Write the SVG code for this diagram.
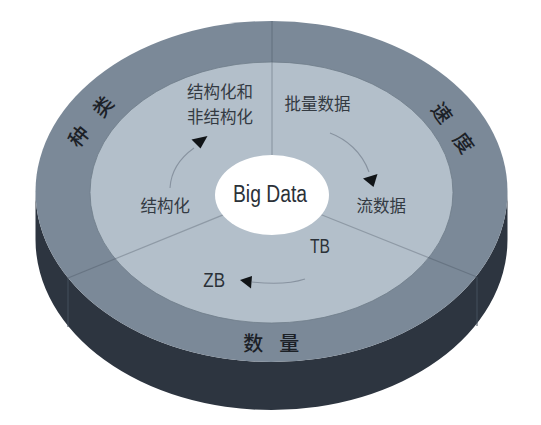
<svg xmlns="http://www.w3.org/2000/svg" width="541" height="425" viewBox="0 0 541 425">
<style>
.cjk{font-family:"Noto Sans CJK SC","Noto Sans",sans-serif;fill:#333a42;font-size:16.5px;text-anchor:middle}
.ring{font-family:"Noto Sans CJK SC","Noto Sans",sans-serif;fill:#1c2127;font-size:20px;font-weight:500;text-anchor:middle}
.lat{font-family:"Liberation Sans",Arial,sans-serif;fill:#2b3138;text-anchor:middle}
.div{stroke:#3a4652;stroke-opacity:0.3;stroke-width:1.2;fill:none}
.side{stroke:#44505c;stroke-width:1;fill:none}
.flow{stroke:#8893a0;stroke-width:1.1;fill:none}
.head{fill:#111417}
</style>
<rect width="541" height="425" fill="#ffffff"/>
<g id="disc">
<path d="M35.5,191.5 L35.5,239.5 A236,170.5 0 0 0 507.5,239.5 L507.5,191.5 A236,170.5 0 0 1 35.5,191.5 Z" fill="#2d3540"/>
<line class="side" x1="68" y1="278" x2="68" y2="327"/>
<line class="side" x1="477" y1="277" x2="477" y2="326"/>
<ellipse cx="271.5" cy="191.5" rx="236" ry="170.5" fill="#7b8998"/>
<ellipse cx="271.5" cy="192.5" rx="181.5" ry="130.5" fill="#b3bfca" stroke="#6f7c89" stroke-width="0.8"/>
<line class="div" x1="272" y1="21" x2="272" y2="195"/>
<line class="div" x1="272" y1="195" x2="68" y2="278"/>
<line class="div" x1="272" y1="195" x2="477" y2="277"/>
</g>
<g id="center">
<ellipse cx="272" cy="195" rx="57" ry="40" fill="#ffffff"/>
<text class="lat" x="270" y="201.5" font-size="23" textLength="74" lengthAdjust="spacingAndGlyphs">Big Data</text>
</g>
<g id="variety">
<text class="ring" transform="translate(91.3,121.7) rotate(-51)" x="-19.2 19.2" y="7">种类</text>
<text class="cjk" x="220" y="97.7">结构化和</text>
<text class="cjk" x="220" y="122.7">非结构化</text>
<text class="cjk" x="165.3" y="212">结构化</text>
</g>
<g id="velocity">
<text class="ring" transform="translate(452.5,128.3) rotate(54)" x="-18.5 18.5" y="7">速度</text>
<text class="cjk" x="317.5" y="109.5">批量数据</text>
<text class="cjk" x="381.3" y="212">流数据</text>
</g>
<g id="volume">
<text class="ring" x="253.3 289.2" y="351" font-size="21">数量</text>
<text class="lat" x="320" y="252.7" font-size="20" textLength="20" lengthAdjust="spacingAndGlyphs">TB</text>
<text class="lat" x="214.2" y="286.7" font-size="20" textLength="21.7" lengthAdjust="spacingAndGlyphs">ZB</text>
</g>
<g id="connectors">
<path class="flow" d="M170,188 C171,170 180,158 194,148"/>
<polygon class="head" points="191.5,139.5 207.5,136 200.5,148.5"/>
<path class="flow" d="M330,133 C346,139 362,152 369,172"/>
<polygon class="head" points="363,178.5 377.5,174 373.5,187"/>
<path class="flow" d="M305,279 C290,284 270,284 252,282"/>
<polygon class="head" points="240,280 252,276 251,288.5"/>
</g>
</svg>
